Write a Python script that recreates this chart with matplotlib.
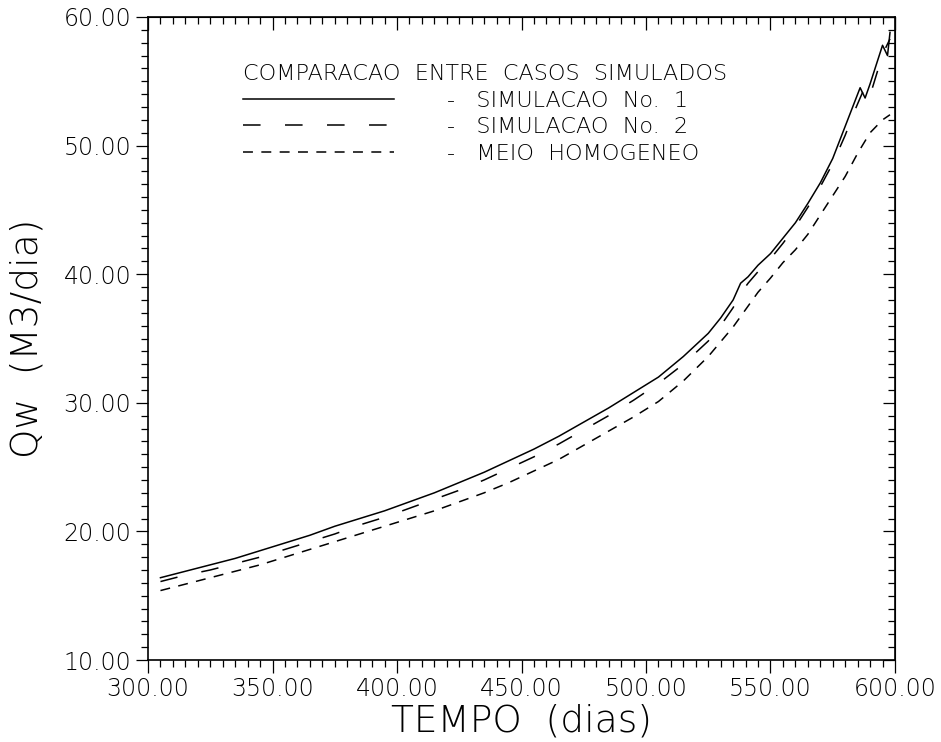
import matplotlib
matplotlib.use("Agg")
import matplotlib.pyplot as plt
from matplotlib.ticker import MultipleLocator, FormatStrFormatter

plt.rcParams['font.family'] = ['DejaVu Sans']
plt.rcParams['font.weight'] = 'light'
plt.rcParams['axes.labelweight'] = 'light'

# Tempo (dias) e vazao de agua Qw (M3/dia) para cada caso simulado
tempo_sim1 = [305, 315, 325, 335, 345, 355, 365, 375, 385, 395, 405, 415, 425,
              435, 445, 455, 465, 475, 485, 495, 505, 515, 525, 530, 535, 538,
              541, 545, 550, 555, 560, 565, 570, 575, 580, 584, 586, 588, 590,
              593, 595, 597, 598]
qw_sim1 = [16.4, 16.9, 17.4, 17.9, 18.5, 19.1, 19.7, 20.4, 21.0, 21.6, 22.3,
           23.0, 23.8, 24.6, 25.5, 26.4, 27.4, 28.5, 29.6, 30.8, 32.0, 33.6,
           35.4, 36.6, 38.0, 39.3, 39.8, 40.7, 41.6, 42.8, 44.0, 45.5, 47.1,
           49.0, 51.5, 53.5, 54.5, 53.7, 54.8, 56.6, 57.8, 57.0, 58.8]

tempo_sim2 = [305, 315, 325, 335, 345, 355, 365, 375, 385, 395, 405, 415, 425,
              435, 445, 455, 465, 475, 485, 495, 505, 515, 525, 530, 535, 538,
              541, 545, 550, 555, 560, 565, 570, 575, 580, 584, 588, 590, 593,
              596, 598]
qw_sim2 = [16.1, 16.6, 17.0, 17.5, 18.0, 18.6, 19.2, 19.8, 20.5, 21.1, 21.8,
           22.5, 23.2, 24.0, 24.9, 25.8, 26.8, 27.9, 29.0, 30.2, 31.5, 33.0,
           34.8, 36.0, 37.4, 38.5, 39.3, 40.2, 41.2, 42.4, 43.7, 45.2, 46.8,
           48.6, 50.8, 52.8, 54.6, 53.9, 55.8, 57.5, 58.3]

tempo_homog = [305, 315, 325, 335, 345, 355, 365, 375, 385, 395, 405, 415, 425,
               435, 445, 455, 465, 475, 485, 495, 505, 515, 525, 535, 545, 550,
               555, 560, 565, 570, 575, 580, 585, 590, 595, 598]
qw_homog = [15.4, 15.9, 16.4, 16.9, 17.4, 18.0, 18.6, 19.2, 19.8, 20.4, 21.0,
            21.6, 22.3, 23.0, 23.8, 24.7, 25.6, 26.7, 27.8, 28.9, 30.1, 31.7,
            33.6, 35.9, 38.6, 39.7, 40.9, 41.9, 43.1, 44.6, 46.1, 47.6, 49.4,
            51.0, 52.0, 52.4]

legend_title = "COMPARACAO  ENTRE  CASOS  SIMULADOS"
legend_labels = ["-   SIMULACAO  No.  1",
                 "-   SIMULACAO  No.  2",
                 "-   MEIO  HOMOGENEO"]

fig = plt.figure(figsize=(9.41, 7.42), dpi=100)
ax = fig.add_axes([0.1573, 0.1105, 0.7938, 0.8666])

lw = 1.1
l1, = ax.plot(tempo_sim1, qw_sim1, color='black', lw=lw, linestyle='-')
l2, = ax.plot(tempo_sim2, qw_sim2, color='black', lw=lw, dashes=(11.5, 16))
l3, = ax.plot(tempo_homog, qw_homog, color='black', lw=lw, dashes=(6.5, 5.5))

ax.set_xlim(300, 600)
ax.set_ylim(10, 60)

ax.xaxis.set_major_locator(MultipleLocator(50))
ax.xaxis.set_minor_locator(MultipleLocator(5))
ax.yaxis.set_major_locator(MultipleLocator(10))
ax.yaxis.set_minor_locator(MultipleLocator(1))
ax.xaxis.set_major_formatter(FormatStrFormatter('%.2f'))
ax.yaxis.set_major_formatter(FormatStrFormatter('%.2f'))

ax.tick_params(which='both', direction='out', width=0.9, labelsize=17)
ax.tick_params(which='major', length=9)
ax.tick_params(which='minor', length=5)
ax.tick_params(axis='x', pad=3)
ax.tick_params(axis='y', pad=3)

for sp in ax.spines.values():
    sp.set_linewidth(1.2)

# Top and right edges: ticks pointing into the plot
top = ax.secondary_xaxis('top')
top.xaxis.set_major_locator(MultipleLocator(50))
top.xaxis.set_minor_locator(MultipleLocator(5))
top.tick_params(which='both', direction='in', labeltop=False, width=0.9)
top.tick_params(which='major', length=9)
top.tick_params(which='minor', length=5)
right = ax.secondary_yaxis('right')
right.yaxis.set_major_locator(MultipleLocator(10))
right.yaxis.set_minor_locator(MultipleLocator(1))
right.tick_params(which='both', direction='in', labelright=False, width=0.9)
right.tick_params(which='major', length=9)
right.tick_params(which='minor', length=5)

ax.set_xlabel("TEMPO  (dias)", fontsize=27, fontweight='light', labelpad=2)
ax.set_ylabel("Qw  (M3/dia)", fontsize=27, fontweight='light', labelpad=14)

leg = ax.legend([l1, l2, l3], legend_labels, title=legend_title,
                loc='upper left', bbox_to_anchor=(0.127, 0.927),
                frameon=False, fontsize=16, title_fontsize=16,
                handlelength=6.8, handletextpad=2.4, labelspacing=0.3,
                borderpad=0, borderaxespad=0, alignment='left')

fig.savefig("out.png", dpi=100, facecolor='white')
